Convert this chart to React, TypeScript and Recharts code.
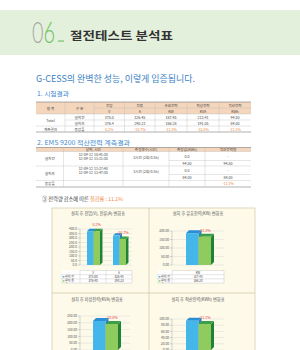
import React from 'react';
import { BarChart, Bar, XAxis, YAxis, CartesianGrid, LabelList } from 'recharts';

const FONT = '"Noto Sans CJK KR", "Noto Sans", sans-serif';

// ---------- Table 1 data ----------
const t1Columns = ['전압', '전류', '유효전력', '피상전력', '적산전력'];
const t1Units = ['V', 'A', 'KW', 'KVA', 'KWh'];
const t1Before = ['375.0', '326.45', '187.45', '213.41', '94.50'];
const t1After = ['376.4', '290.23', '166.28', '191.05', '84.00'];
const t1Change = ['0.2%', '-10.7%', '-11.3%', '-10.5%', '-11.1%'];

// ---------- Table 2 data ----------
const t2Header = ['날짜, 시간', '측정횟수(시간)', '측정값(KWh)', '적산전력량'];
const t2Groups = ['설치전', '설치후'];
const t2Times = [
  ['12-09-12 10:41:30', '12-09-12 11:11:30'],
  ['12-09-12 11:17:40', '12-09-12 11:47:30'],
];
const t2Counts = ['1시간 (2회/0.5h)', '1시간 (2회/0.5h)'];
const t2Measured = [['0.0', '94.50'], ['0.0', '84.00']];
const t2Accum = [['-', '94.50'], ['-', '84.00']];
const t2Change = '-11.1%';

// ---------- Chart data ----------
const vaCats = ['V', 'A'];
const vaBefore = [375.0, 326.45];
const vaAfter = [376.4, 290.23];
const vaChange = ['0.2%', '-10.7%'];
const vaTicks = [0, 50, 100, 150, 200, 250, 300, 350, 400];

const kwCats = ['KW'];
const kwBefore = [187.45];
const kwAfter = [166.28];
const kwChange = ['-11.3%'];
const kwTicks = [0, 50, 100, 150, 200];

const kvaCats = ['KVA'];
const kvaBefore = [213.41];
const kvaAfter = [191.05];
const kvaChange = ['-10.5%'];
const kvaTicks = [0, 50, 100, 150, 200, 250];

const kwhCats = ['KWh'];
const kwhBefore = [94.5];
const kwhAfter = [84.0];
const kwhChange = ['-11.1%'];
const kwhTicks = [0, 20, 40, 60, 80, 100];

const rowLabels = ['설치 전', '설치 후'];

const BLUE = '#45b6ea';
const BLUE_TOP = '#2a8ed6';
const BLUE_SIDE = '#2a7fc2';
const GREEN = '#8fcb5d';
const GREEN_TOP = '#3b9f4a';
const GREEN_SIDE = '#1f8237';

function make3D(front: string, top: string, side: string) {
  return (props: any) => {
    const { x, y, width, height } = props;
    if (x == null || width == null || height == null) return null;
    const d = Math.min(3, width * 0.38);
    return (
      <g>
        <polygon
          points={`${x + width},${y} ${x + width + d},${y - d} ${x + width + d},${y + height - d} ${x + width},${y + height}`}
          fill={side}
        />
        <polygon
          points={`${x},${y} ${x + d},${y - d} ${x + width + d},${y - d} ${x + width},${y}`}
          fill={top}
        />
        <rect x={x} y={y} width={width} height={height} fill={front} />
      </g>
    );
  };
}
const blueShape = make3D(BLUE, BLUE_TOP, BLUE_SIDE);
const greenShape = make3D(GREEN, GREEN_TOP, GREEN_SIDE);

const pctLabel = (p: any) => {
  const { x, y, width, value } = p;
  return (
    <text
      x={x + width / 2}
      y={y - 5}
      fontSize={3.6}
      fill="#e8403a"
      textAnchor="middle"
      fontFamily={FONT}
    >
      {value}
    </text>
  );
};

function build(cats: string[], before: number[], after: number[], pct: string[]) {
  return cats.map((c, i) => ({ cat: c, before: before[i], after: after[i], pct: pct[i] }));
}

type MiniProps = {
  left: number; top: number; width: number; height: number; yWidth: number; bottom: number;
  data: any[]; ticks: number[]; decimals: number; barSize: number;
};

function MiniChart({ left, top, width, height, yWidth, bottom, data, ticks, decimals, barSize }: MiniProps) {
  return (
    <div style={{ position: 'absolute', left, top, width, height }}>
      <BarChart
        width={width}
        height={height}
        data={data}
        margin={{ top: 15, right: 10, bottom, left: 0 }}
        barGap={0}
        barSize={barSize}
      >
        <CartesianGrid vertical={false} stroke="#d2d2d2" strokeWidth={0.4} />
        <XAxis dataKey="cat" hide />
        <YAxis
          width={yWidth}
          domain={[0, ticks[ticks.length - 1]]}
          ticks={ticks}
          interval={0}
          tick={{ fontSize: 3.2, fill: '#555', fontFamily: FONT }}
          tickFormatter={(v: number) => v.toFixed(decimals)}
          axisLine={{ stroke: '#9a9a9a', strokeWidth: 0.4 }}
          tickLine={{ stroke: '#9a9a9a', strokeWidth: 0.4 }}
          tickSize={2}
          tickMargin={1}
        />
        <Bar dataKey="before" shape={blueShape} isAnimationActive={false} />
        <Bar dataKey="after" shape={greenShape} isAnimationActive={false}>
          <LabelList dataKey="pct" content={pctLabel} />
        </Bar>
      </BarChart>
    </div>
  );
}

const T = ({ x, y, children, size = 3.6, fill = '#444', anchor = 'middle', weight }: any) => (
  <text
    x={x}
    y={y}
    fontSize={size}
    fill={fill}
    textAnchor={anchor}
    dominantBaseline="central"
    fontFamily={FONT}
    fontWeight={weight}
  >
    {children}
  </text>
);

const INNER = '#b8b8b8';
const OUTER = '#7a7a7a';
const HEAD_BG = '#f4d6bd';
const ORANGE = '#f0883a';

function Table1() {
  const cols = [36, 65, 94, 124.5, 155, 187, 219, 251];
  const rows = [102, 108, 114, 120, 126, 132];
  const cx = (i: number) => (cols[i] + cols[i + 1]) / 2;
  const cy = (i: number) => (rows[i] + rows[i + 1]) / 2;
  return (
    <g>
      <rect x={36} y={102} width={215} height={12} fill={HEAD_BG} />
      <line x1={36} x2={251} y1={102} y2={102} stroke={OUTER} strokeWidth={0.6} />
      <line x1={94} x2={251} y1={108} y2={108} stroke={INNER} strokeWidth={0.35} />
      <line x1={36} x2={251} y1={114} y2={114} stroke={INNER} strokeWidth={0.35} />
      <line x1={65} x2={251} y1={120} y2={120} stroke={INNER} strokeWidth={0.35} />
      <line x1={36} x2={251} y1={126} y2={126} stroke={INNER} strokeWidth={0.35} />
      <line x1={36} x2={251} y1={132} y2={132} stroke={OUTER} strokeWidth={0.6} />
      {cols.slice(1, -1).map((x, i) => (
        <line key={i} x1={x} x2={x} y1={102} y2={132} stroke={INNER} strokeWidth={0.35} />
      ))}
      <T x={cx(0)} y={108}>항 목</T>
      <T x={cx(1)} y={108}>구 분</T>
      {t1Columns.map((c, i) => (
        <T key={'h' + i} x={cx(i + 2)} y={cy(0)}>{c}</T>
      ))}
      {t1Units.map((c, i) => (
        <T key={'u' + i} x={cx(i + 2)} y={cy(1)}>{c}</T>
      ))}
      <T x={cx(0)} y={120}>Total</T>
      <T x={cx(1)} y={cy(2)}>설치전</T>
      <T x={cx(1)} y={cy(3)}>설치후</T>
      {t1Before.map((v, i) => (
        <T key={'b' + i} x={cx(i + 2)} y={cy(2)}>{v}</T>
      ))}
      {t1After.map((v, i) => (
        <T key={'a' + i} x={cx(i + 2)} y={cy(3)}>{v}</T>
      ))}
      <T x={cx(0)} y={cy(4)}>계측결과</T>
      <T x={cx(1)} y={cy(4)}>증감률</T>
      {t1Change.map((v, i) => (
        <T key={'c' + i} x={cx(i + 2)} y={cy(4)} fill={ORANGE}>{v}</T>
      ))}
    </g>
  );
}

function Table2() {
  const cols = [36, 63.5, 123, 169, 205, 251];
  const blocks = [[151.5, 166, 160.5], [166, 180.5, 174.5]];
  const cx = (i: number) => (cols[i] + cols[i + 1]) / 2;
  return (
    <g>
      <rect x={36} y={147.5} width={215} height={4} fill={HEAD_BG} />
      <line x1={36} x2={251} y1={147.5} y2={147.5} stroke={OUTER} strokeWidth={0.6} />
      <line x1={36} x2={251} y1={151.5} y2={151.5} stroke={INNER} strokeWidth={0.35} />
      <line x1={36} x2={251} y1={166} y2={166} stroke={INNER} strokeWidth={0.35} />
      <line x1={36} x2={251} y1={180.5} y2={180.5} stroke={INNER} strokeWidth={0.35} />
      <line x1={36} x2={251} y1={187} y2={187} stroke={OUTER} strokeWidth={0.6} />
      {blocks.map((b, i) => (
        <line key={'s' + i} x1={169} x2={251} y1={b[2]} y2={b[2]} stroke={INNER} strokeWidth={0.35} />
      ))}
      {cols.slice(1, -1).map((x, i) => (
        <line key={i} x1={x} x2={x} y1={147.5} y2={187} stroke={INNER} strokeWidth={0.35} />
      ))}
      {t2Header.map((h, i) => (
        <T key={'h' + i} x={cx(i + 1)} y={149.5}>{h}</T>
      ))}
      {blocks.map((b, i) => (
        <g key={'b' + i}>
          <T x={cx(0)} y={(b[0] + b[1]) / 2}>{t2Groups[i]}</T>
          <T x={cx(1)} y={b[0] + 2.6}>{t2Times[i][0]}</T>
          <T x={cx(1)} y={b[0] + 6.6}>{t2Times[i][1]}</T>
          <T x={cx(2)} y={b[0] + 5.8}>{t2Counts[i]}</T>
          <T x={cx(3)} y={(b[0] + b[2]) / 2}>{t2Measured[i][0]}</T>
          <T x={cx(3)} y={(b[2] + b[1]) / 2}>{t2Measured[i][1]}</T>
          <T x={cx(4)} y={(b[0] + b[2]) / 2}>{t2Accum[i][0]}</T>
          <T x={cx(4)} y={(b[2] + b[1]) / 2}>{t2Accum[i][1]}</T>
        </g>
      ))}
      <T x={cx(0)} y={183.75}>증감률</T>
      <T x={cx(4)} y={183.75} fill={ORANGE}>{t2Change}</T>
    </g>
  );
}

function DataTable({ labelLeft, plotLeft, plotWidth, top, cats, before, after, decimals }: any) {
  const rh = 4.2;
  const colW = plotWidth / cats.length;
  const right = plotLeft + plotWidth;
  const ys = [top, top + rh, top + 2 * rh, top + 3 * rh];
  const fmt = (v: number) => v.toFixed(decimals);
  return (
    <g>
      <rect x={labelLeft} y={top} width={right - labelLeft} height={3 * rh} fill="#ffffff" />
      {ys.map((y, i) => (
        <line key={'h' + i} x1={i === 0 ? plotLeft : labelLeft} x2={right} y1={y} y2={y} stroke="#a8a8a8" strokeWidth={0.3} />
      ))}
      <line x1={labelLeft} x2={labelLeft} y1={ys[1]} y2={ys[3]} stroke="#a8a8a8" strokeWidth={0.3} />
      {cats.map((_: string, i: number) => (
        <line key={'v' + i} x1={plotLeft + i * colW} x2={plotLeft + i * colW} y1={top} y2={ys[3]} stroke="#a8a8a8" strokeWidth={0.3} />
      ))}
      <line x1={right} x2={right} y1={top} y2={ys[3]} stroke="#a8a8a8" strokeWidth={0.3} />
      {cats.map((c: string, i: number) => (
        <T key={'c' + i} x={plotLeft + (i + 0.5) * colW} y={top + rh / 2} size={3}>{c}</T>
      ))}
      <rect x={labelLeft + 0.8} y={ys[1] + 1.3} width={1.6} height={1.6} fill={BLUE} />
      <rect x={labelLeft + 0.8} y={ys[2] + 1.3} width={1.6} height={1.6} fill={GREEN} />
      <T x={labelLeft + 3} y={ys[1] + rh / 2} size={3} anchor="start">{rowLabels[0]}</T>
      <T x={labelLeft + 3} y={ys[2] + rh / 2} size={3} anchor="start">{rowLabels[1]}</T>
      {cats.map((_: string, i: number) => (
        <g key={'d' + i}>
          <T x={plotLeft + (i + 0.5) * colW} y={ys[1] + rh / 2} size={3}>{fmt(before[i])}</T>
          <T x={plotLeft + (i + 0.5) * colW} y={ys[2] + rh / 2} size={3}>{fmt(after[i])}</T>
        </g>
      ))}
    </g>
  );
}

export default function App() {
  return (
    <div
      style={{
        position: 'fixed',
        left: 0,
        top: 0,
        width: 300,
        height: 350,
        overflow: 'hidden',
        background: '#ffffff',
        fontFamily: FONT,
      }}
    >
      <svg width={300} height={350} style={{ position: 'absolute', left: 0, top: 0 }}>
        {/* header band */}
        <rect x={0} y={10} width={300} height={45} fill="#e3f0dc" />
        <text x={32} y={43} fontSize={30} fill="#a9a9a9" fontFamily='"Lato", "DejaVu Sans", sans-serif' fontWeight={300} textLength={23} lengthAdjust="spacingAndGlyphs">
          0<tspan fill="#6cbf5a">6</tspan>
        </text>
        <rect x={58} y={40.5} width={6} height={1.1} fill="#6cbf5a" />
        <text x={70} y={39.5} fontSize={11} fill="#333" fontWeight={700} fontFamily={FONT} textLength={103} lengthAdjust="spacingAndGlyphs">절전테스트 분석표</text>

        {/* headline */}
        <text x={36} y={81.5} fontSize={9} fill="#3b82c4" fontFamily={FONT} textLength={159} lengthAdjust="spacingAndGlyphs">G-CESS의 완벽한 성능, 이렇게 입증됩니다.</text>

        <text x={37} y={96} fontSize={6.2} fill="#3d8ad0" fontFamily={FONT} textLength={32} lengthAdjust="spacingAndGlyphs">1. 시험결과</text>
        <Table1 />

        <text x={37} y={145} fontSize={6.2} fill="#3d8ad0" fontFamily={FONT} textLength={93} lengthAdjust="spacingAndGlyphs">2. EMS 9200 적산전력 계측결과</text>
        <Table2 />

        <text x={42} y={201} fontSize={5.2} fill="#333" fontFamily={FONT}>
          ③ 전력량 감소에 따른 <tspan fill={ORANGE}>절감률 : 11.1%</tspan>
        </text>

        {/* chart box */}
        <rect x={52} y={208} width={203} height={150} fill="#fdfaea" stroke="#ccbd96" strokeWidth={0.6} />
        <line x1={149} x2={149} y1={208} y2={350} stroke="#ccbd96" strokeWidth={0.6} />
        <line x1={52} x2={255} y1={293} y2={293} stroke="#ccbd96" strokeWidth={0.6} />
        <T x={98} y={213} size={4.2} fill="#555">설치 후 전압(V), 전류(A) 변화표</T>
        <T x={198} y={213} size={4.2} fill="#555">설치 후 유효전력(KW) 변화표</T>
        <T x={97} y={299} size={4.2} fill="#555">설치 후 피상전력(KVA) 변화표</T>
        <T x={198} y={299} size={4.2} fill="#555">설치 후 적산전력(KWh) 변화표</T>

        <DataTable labelLeft={62} plotLeft={80} plotWidth={52} top={270.5} cats={vaCats} before={vaBefore} after={vaAfter} decimals={2} />
        <DataTable labelLeft={158} plotLeft={172} plotWidth={52} top={270.5} cats={kwCats} before={kwBefore} after={kwAfter} decimals={2} />
      </svg>

      <MiniChart left={52} top={214} width={90} height={54} yWidth={28} bottom={3} data={build(vaCats, vaBefore, vaAfter, vaChange)} ticks={vaTicks} decimals={1} barSize={6.5} />
      <MiniChart left={140} top={216} width={94} height={52} yWidth={32} bottom={3} data={build(kwCats, kwBefore, kwAfter, kwChange)} ticks={kwTicks} decimals={2} barSize={12.5} />
      <MiniChart left={50} top={301} width={90} height={49} yWidth={30} bottom={0} data={build(kvaCats, kvaBefore, kvaAfter, kvaChange)} ticks={kvaTicks} decimals={2} barSize={12.5} />
      <MiniChart left={140} top={304} width={94} height={46} yWidth={32} bottom={0} data={build(kwhCats, kwhBefore, kwhAfter, kwhChange)} ticks={kwhTicks} decimals={2} barSize={12.5} />
    </div>
  );
}
